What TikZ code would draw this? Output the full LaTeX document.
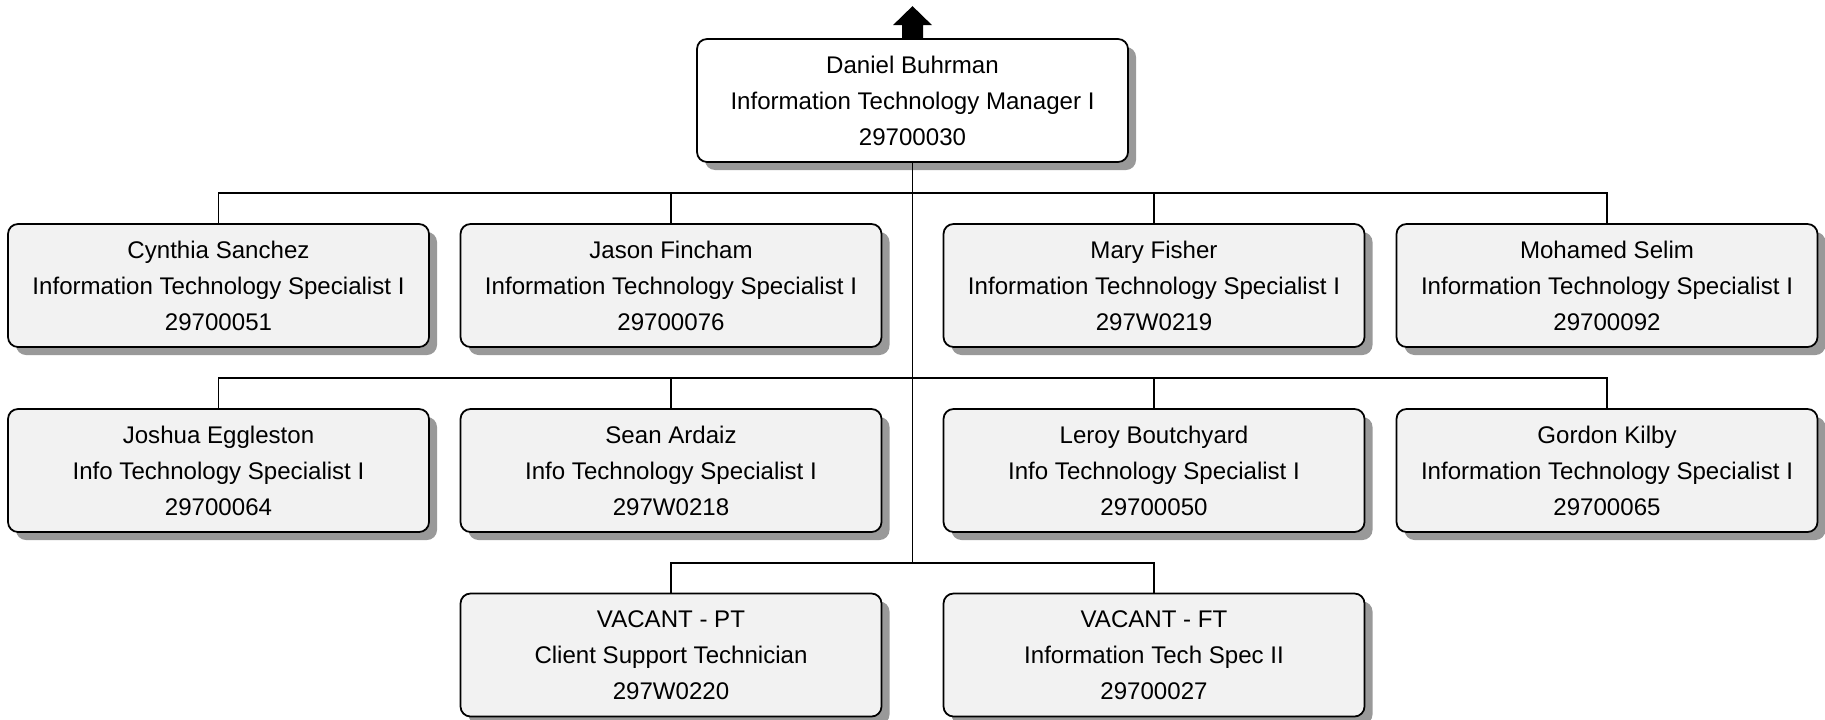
\documentclass[tikz,border=0pt]{standalone}
\usepackage{fontspec}
\setmainfont{Liberation Sans}
\usepackage{tikz}
\usetikzlibrary{shadows}

\begin{document}
\begin{tikzpicture}[
  person/.style={draw, rectangle, rounded corners=0.2cm, line width=1pt, fill=black!5,
    minimum width=8.42cm, minimum height=2.46cm, inner sep=0pt, align=center,
    font=\fontsize{13.7}{20.5}\selectfont,
    drop shadow={shadow xshift=0.16cm, shadow yshift=-0.16cm, fill=black!40, opacity=1}},
  link/.style={draw, line width=1.1pt}
]
\useasboundingbox (0,0) rectangle (36.5,-14.4);

\node[person, fill=white, minimum width=8.62cm, xshift=18.25cm, yshift=-2.01cm] (boss) {Daniel Buhrman\\Information Technology Manager I\\29700030};
\fill (boss.north) ++(-0.21,0) -- ++(0,0.26) -- ++(-0.18,0) -- ++(0.39,0.38) -- ++(0.39,-0.38) -- ++(-0.18,0) -- ++(0,-0.26) -- cycle;

\node[person, xshift=4.37cm, yshift=-5.71cm] (cynthia) {Cynthia Sanchez\\Information Technology Specialist I\\29700051};
\node[person, xshift=13.42cm, yshift=-5.71cm] (jason) {Jason Fincham\\Information Technology Specialist I\\29700076};
\node[person, xshift=23.08cm, yshift=-5.71cm] (mary) {Mary Fisher\\Information Technology Specialist I\\297W0219};
\node[person, xshift=32.14cm, yshift=-5.71cm] (mohamed) {Mohamed Selim\\Information Technology Specialist I\\29700092};

\node[person, xshift=4.37cm, yshift=-9.41cm] (joshua) {Joshua Eggleston\\Info Technology Specialist I\\29700064};
\node[person, xshift=13.42cm, yshift=-9.41cm] (sean) {Sean Ardaiz\\Info Technology Specialist I\\297W0218};
\node[person, xshift=23.08cm, yshift=-9.41cm] (leroy) {Leroy Boutchyard\\Info Technology Specialist I\\29700050};
\node[person, xshift=32.14cm, yshift=-9.41cm] (gordon) {Gordon Kilby\\Information Technology Specialist I\\29700065};

\node[person, xshift=13.42cm, yshift=-13.1cm] (vacpt) {VACANT - PT\\Client Support Technician\\297W0220};
\node[person, xshift=23.08cm, yshift=-13.1cm] (vacft) {VACANT - FT\\Information Tech Spec II\\29700027};

\coordinate (bus1) at (0,-3.86);
\coordinate (bus2) at (0,-7.56);
\coordinate (bus3) at (0,-11.26);

\draw[link] (boss.south) -- (boss.south |- bus3);
\draw[link] (boss.south |- bus1) -| (cynthia.north);
\draw[link] (boss.south |- bus1) -| (jason.north);
\draw[link] (boss.south |- bus1) -| (mary.north);
\draw[link] (boss.south |- bus1) -| (mohamed.north);
\draw[link] (boss.south |- bus2) -| (joshua.north);
\draw[link] (boss.south |- bus2) -| (sean.north);
\draw[link] (boss.south |- bus2) -| (leroy.north);
\draw[link] (boss.south |- bus2) -| (gordon.north);
\draw[link] (boss.south |- bus3) -| (vacpt.north);
\draw[link] (boss.south |- bus3) -| (vacft.north);
\end{tikzpicture}
\end{document}
